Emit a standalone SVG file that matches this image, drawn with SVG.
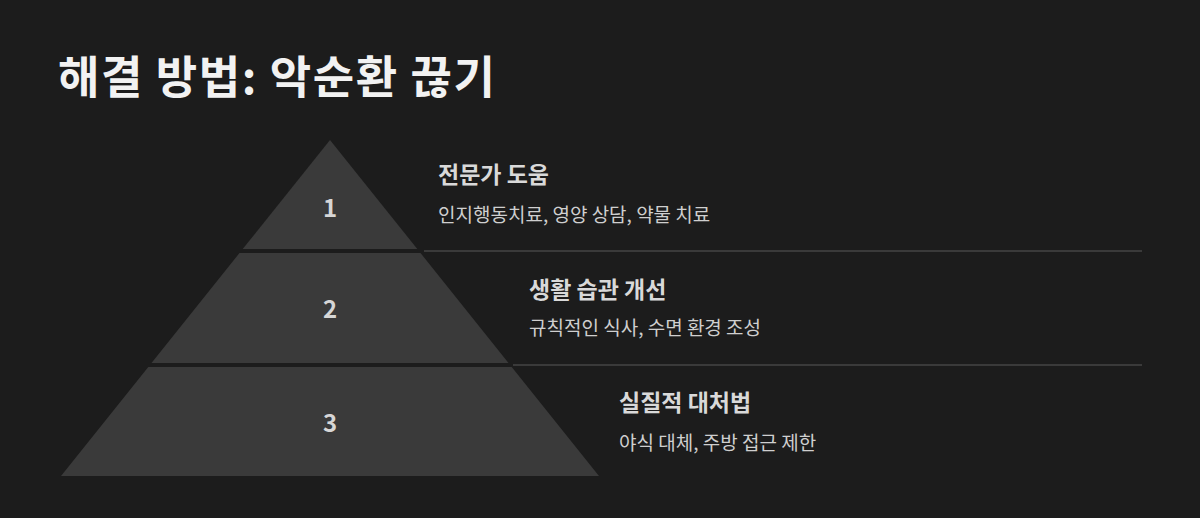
<svg xmlns="http://www.w3.org/2000/svg" width="1200" height="518" viewBox="0 0 1200 518">
<style>
.bg{fill:#1c1c1c}
.tier{fill:#3a3a3a}
.num{font-family:"Noto Sans CJK KR","Noto Sans",sans-serif;font-weight:700;font-size:24px;fill:#d6d6d6;text-anchor:middle}
.h{font-family:"Noto Sans CJK KR","Noto Sans",sans-serif;font-weight:700;font-size:23px;fill:#d9d9d9}
.s{font-family:"Noto Sans CJK KR","Noto Sans",sans-serif;font-weight:400;font-size:19px;fill:#cfcfcf}
.sep{stroke:#454545;stroke-width:1.6;fill:none}
.title{font-family:"Noto Sans CJK KR","Noto Sans",sans-serif;font-weight:700;font-size:45px;fill:#f2f2f2}
</style>
<rect class="bg" x="0" y="0" width="1200" height="518"/>
<text class="title" x="58" y="94" textLength="437" lengthAdjust="spacing">해결 방법: 악순환 끊기</text>
<g id="connectors">
<line class="sep" x1="424" y1="251" x2="1142" y2="251"/>
<line class="sep" x1="513" y1="365" x2="1142" y2="365"/>
</g>
<g id="tier1">
<polygon class="tier" points="330,140 417.3,249 242.7,249"/>
<text class="num" x="330" y="217">1</text>
<text class="h" x="438" y="183">전문가 도움</text>
<text class="s" x="438" y="222">인지행동치료, 영양 상담, 약물 치료</text>
</g>
<g id="tier2">
<polygon class="tier" points="239.5,253 420.5,253 508.5,363 151.5,363"/>
<text class="num" x="330" y="318">2</text>
<text class="h" x="529" y="298">생활 습관 개선</text>
<text class="s" x="529" y="335">규칙적인 식사, 수면 환경 조성</text>
</g>
<g id="tier3">
<polygon class="tier" points="148.3,367 511.7,367 599,476 61,476"/>
<text class="num" x="330" y="432">3</text>
<text class="h" x="619" y="411">실질적 대처법</text>
<text class="s" x="619" y="450">야식 대체, 주방 접근 제한</text>
</g>
</svg>
